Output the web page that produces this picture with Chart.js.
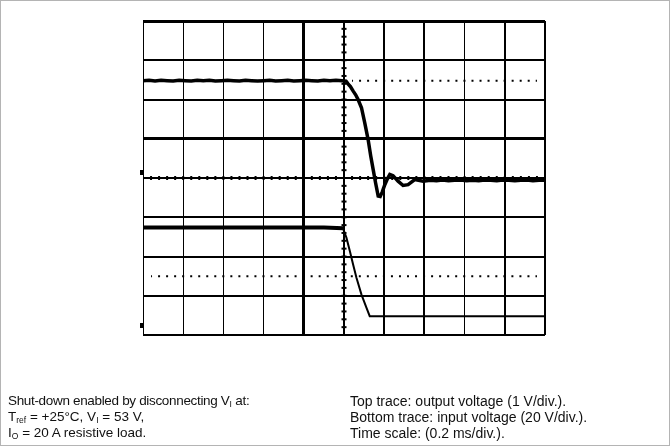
<!DOCTYPE html>
<html><head><meta charset="utf-8">
<script src="https://cdn.jsdelivr.net/npm/chart.js@4"></script>
<style>
html,body{margin:0;padding:0;background:#fff;}
#wrap{position:relative;width:670px;height:446px;overflow:hidden;background:#fff;}
#frame{position:absolute;left:0;top:0;width:670px;height:446px;box-sizing:border-box;border:1px solid #b4b4b4;pointer-events:none;}
canvas#c{position:absolute;left:0;top:0;}
.cap{position:absolute;font-family:"Liberation Sans",Arial,Helvetica,sans-serif;line-height:16px;color:#111;white-space:nowrap;}
.cap sub{font-size:8.5px;vertical-align:-2px;line-height:0;letter-spacing:0;}
</style></head>
<body>
<div id="wrap">
<canvas id="c" width="670" height="446"></canvas>
<div class="cap" style="left:8px;top:393px;font-size:13.5px;"><span style="letter-spacing:-0.33px">Shut-down enabled by disconnecting V<sub>I</sub> at:</span><br>T<sub>ref</sub> = +25°C, V<sub>I</sub> = 53 V,<br>I<sub>O</sub> = 20 A resistive load.</div>
<div class="cap" style="left:350px;top:393px;font-size:14px;">Top trace: output voltage (1 V/div.).<br>Bottom trace: input voltage (20 V/div.).<br>Time scale: (0.2 ms/div.).</div>
<div id="frame"></div>
</div>
<script>
// Time axis in ms (0.2 ms/div), vertical axis in screen divisions
const xGrid = [-1, -0.8, -0.6, -0.4, -0.2, 0, 0.2, 0.4, 0.6, 0.8, 1];
const yGrid = [-4, -3, -2, -1, 0, 1, 2, 3, 4];

// Top trace: output voltage (1 V/div)
const topTime = [-1.00,-0.97,-0.94,-0.91,-0.88,-0.85,-0.82,-0.79,-0.76,-0.73,-0.70,-0.67,-0.64,-0.61,-0.58,-0.55,-0.52,-0.49,-0.46,-0.43,-0.40,-0.37,-0.34,-0.31,-0.28,-0.25,-0.22,-0.19,-0.16,-0.13,-0.10,-0.07,-0.04,-0.01,
  0.010,0.020,0.032,0.045,0.058,0.070,0.087,0.103,0.120,0.133,0.145,0.157,0.170,0.180,0.190,0.203,0.216,0.228,0.244,0.269,0.294,0.319,0.352,0.394,
  0.43,0.46,0.49,0.52,0.55,0.58,0.61,0.64,0.67,0.70,0.73,0.76,0.79,0.82,0.85,0.88,0.91,0.94,0.97,1.00];
const topValue = [2.48,2.49,2.47,2.49,2.48,2.47,2.49,2.48,2.47,2.49,2.48,2.49,2.47,2.48,2.49,2.48,2.47,2.49,2.48,2.47,2.48,2.49,2.47,2.48,2.49,2.47,2.48,2.49,2.48,2.47,2.49,2.48,2.49,2.48,
  2.47,2.40,2.33,2.22,2.12,2.00,1.79,1.41,0.98,0.56,0.22,-0.12,-0.46,-0.47,-0.36,-0.17,-0.02,0.09,0.06,-0.08,-0.19,-0.17,-0.04,-0.08,
  -0.06,-0.07,-0.05,-0.07,-0.06,-0.05,-0.07,-0.06,-0.07,-0.05,-0.06,-0.07,-0.05,-0.06,-0.07,-0.06,-0.05,-0.07,-0.06,-0.06];

// Bottom trace: input voltage (20 V/div)
const bottomTime  = [-1.00,-0.50,-0.10,-0.005,0.012,0.029,0.045,0.062,0.087,0.112,0.128,1.00];
const bottomValue = [-1.26,-1.26,-1.26,-1.28,-1.52,-1.86,-2.20,-2.54,-2.97,-3.31,-3.52,-3.52];

// Dotted cursor lines
const cursorUpper = {from: 0.04, to: 0.96, level: 2.48};
const cursorLower = {from: -0.96, to: 0.96, level: -2.50};

// Channel ground markers (left of the screen)
const markerTime = -1.008;
const groundLevels = [0.13, -3.77];

// Minor graticule marks on the centre axes (1/5 division)
const xMinor = []; for (let i = -25; i <= 25; i++) xMinor.push(+(i * 0.04).toFixed(2));
const yMinor = []; for (let i = -20; i <= 20; i++) yMinor.push(+(i * 0.2).toFixed(1));

const xGridWidths = [1, 1, 1, 1, 3, 2, 2, 2, 1, 2, 2];
const yGridWidths = [2, 2, 2, 2, 2, 3, 2, 2, 3];

const mk = document.createElement('canvas');
mk.width = 3; mk.height = 5;
const mctx = mk.getContext('2d'); mctx.fillStyle = '#000'; mctx.fillRect(0, 0, 3, 5);

const pts = (xs, ys) => xs.map((x, i) => ({x, y: ys[i]}));

new Chart(document.getElementById('c'), {
  type: 'scatter',
  data: {
    datasets: [
      {data: pts(topTime, topValue), showLine: true, borderColor: '#000', borderWidth: 3.5, pointRadius: 0, tension: 0},
      {data: pts(bottomTime, bottomValue), showLine: true, borderColor: '#000', borderWidth: 2, pointRadius: 0, tension: 0,
        segment: {borderWidth: c => (c.p0.parsed.x < -0.01 ? 4 : 2)}},
      {data: [{x: cursorUpper.from, y: cursorUpper.level}, {x: cursorUpper.to, y: cursorUpper.level}], showLine: true,
        borderColor: '#000', borderWidth: 2, borderDash: [2, 6.03], borderDashOffset: 1, pointRadius: 0},
      {data: [{x: cursorLower.from, y: cursorLower.level}, {x: cursorLower.to, y: cursorLower.level}], showLine: true,
        borderColor: '#000', borderWidth: 2, borderDash: [2, 6.03], borderDashOffset: 1, pointRadius: 0},
      {data: xMinor.map(x => ({x, y: 0})), pointStyle: 'line', rotation: 90, radius: 2, borderWidth: 2, borderColor: '#000', backgroundColor: '#000'},
      {data: yMinor.map(y => ({x: 0, y})), pointStyle: 'line', rotation: 0, radius: 2.5, borderWidth: 2, borderColor: '#000', backgroundColor: '#000'},
      {data: groundLevels.map(y => ({x: markerTime, y})), pointStyle: mk, radius: 3, clip: false}
    ]
  },
  options: {
    responsive: false,
    animation: false,
    events: [],
    layout: {padding: {left: 143, top: 21, right: 125, bottom: 111}},
    plugins: {legend: {display: false}, tooltip: {enabled: false}},
    scales: {
      x: {
        type: 'linear', min: -1, max: 1,
        afterBuildTicks: s => { s.ticks = xGrid.map(v => ({value: v})); },
        ticks: {display: false},
        grid: {color: '#000', lineWidth: c => xGridWidths[c.index] ?? 1, drawTicks: false},
        border: {display: false}
      },
      y: {
        type: 'linear', min: -4, max: 4,
        afterBuildTicks: s => { s.ticks = yGrid.map(v => ({value: v})); },
        ticks: {display: false},
        grid: {color: '#000', lineWidth: c => yGridWidths[c.index] ?? 2, drawTicks: false},
        border: {display: false}
      }
    }
  }
});
</script>
</body></html>
